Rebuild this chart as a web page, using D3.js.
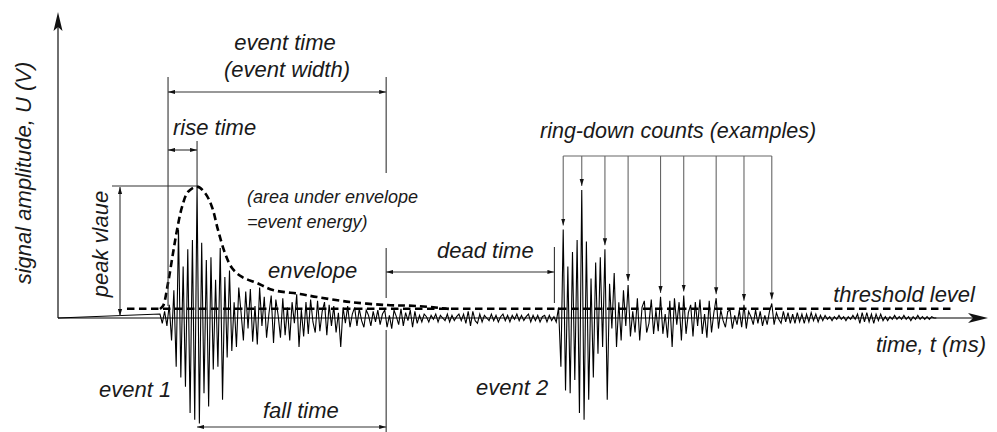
<!DOCTYPE html>
<html>
<head>
<meta charset="utf-8">
<script src="https://cdn.jsdelivr.net/npm/d3@7"></script>
<style>
  html, body { margin: 0; padding: 0; background: #fff; }
  svg text { font-family: "Liberation Sans", Arial, sans-serif; font-style: italic; fill: #1a1a1a; }
</style>
</head>
<body>
<svg id="chart" width="997" height="432"></svg>
<script>
// signal samples, step in ms, amplitudes in % of the peak value
const dt = 0.25;
const event1Start = 11.0;
const event1Amp = [
  3, -4, 5, -6, 10, -17, 21, -37,
  67, -45, 39, -52, 52, -72, 59, -77,
  100, -80, 57, -57, 44, -67, 46, -39,
  29, -37, 53, -62, 31, -30, 36, -25,
  12, -22, 23, 4, -17, 20, -8, 22,
  -18, 9, -20, 23, -6, 16, -15, 3,
  17, -19, 14, 2, -15, 15, -13, 8,
  -17, 12, -4, 18, -22, 6, -14, 12,
  -12, 14, -3, -11, 13, -10, 5, 12,
  -13, 10, -6, 9, -11, 4, -22, 8,
  -4, 9, -7, 3, 8, -6, 7, -2,
  -7, 6, 2, -6, 5, -3, 6, -5, 3
];
const quietAmp = [
  6, -7, 2, -8, 6, 1, -5, 7, -6, 4, -2, 6, -7, 5, -4, 2,
  -3, 3, 1, -3, 2, -1, 3, -3, 2, 0, -2, 3, -3, 2, -2, 1,
  3, -2, 3, -4, 5, -6, 5, -2, -4, 3, -3, 2, 0, -2, 3, -2,
  2, -3, 1, 3, -2, 2, -3, 2, -1, 3, -2, 2, -2, 1, 3, -3,
  2, -2, 2, -3, 1, 2, -3, 2, -2, 1
];
const event2Amp = [
  -3, 8, -37, 67, -55, 39, -57, 50,
  -47, 59, -72, 97, -77, 58, -62, 30,
  -45, 42, -27, 46, -22, 52,
  -62, 26, -8, 34, -22, 12, -17, 21, -6, 25,
  -14, 5, -11, 15, -17, 8, 13, -11, -4, 14, -12, 6, -10, 16,
  -12, 3, -15, 13, -22, 15, -5, 12, -17, 17, -12, 4,
  10, -14, 12, -6, 14, -12, 3, -15, 13, -11, 4, 15,
  -8, 6, -2, -7, 5, 6, -8, 2, -5, 6, -7, 10,
  -8, 5, 1, -5, 6, -4, 5, -6, 2, -5, 5, 11,
  -5, 4, -1, -4, 5, -3, 4, -4, 3, -4, 4, -3
];
const tailAmp = [
  3, -4, 3, -3, 4, -2, 3, -3, 2, -2, 2, -1,
  1, -2, 1, -1, 2, -1, 1, -2, 1, -1, 2, -1,
  3, -4, 4, -3, 4, -3, 3, -4, 3, -2, 3, -2,
  1, -2, 1, -1, 2, -1, 1, -1, 2, -1, 1, -2,
  1, -1, 2, -1, 1, -1, 1, -1, 1, 0, 0
];

// envelope of event 1
const envelopeT   = [11.0, 11.33, 11.87, 12.41, 12.84, 13.38, 14.02, 15.0, 15.86, 16.61, 17.26, 18.01, 18.77, 19.85, 21.47, 23.19, 26.11, 27.94, 31.5, 35.49, 38.73, 42.29];
const envelopeAmp = [6.8, 9.1, 26.5, 49.2, 66.7, 84.1, 95.5, 99.5, 94.7, 84.1, 66.7, 49.2, 37.9, 31.1, 26.5, 21.2, 18.2, 15.9, 12.1, 9.8, 9.1, 6.8];

const thresholdAmp = 7;
const thresholdSpan = [7.44, 96.55];
const peakAmp = 100;

// timing marks (ms)
const eventStart = 11.87;
const peakTime = 15.0;
const eventEnd = 35.4;
const deadEnd = 53.55;

// samples of event 2 used as ring-down count examples
const ringDownIdx = [3, 11, 21, 31, 45, 55, 69, 81, 93];

const svg = d3.select("#chart");
const x = d3.scaleLinear().domain([0, 100]).range([58, 985]);
const y = d3.scaleLinear().domain([0, 100]).range([318, 186]);

svg.append("defs").append("marker")
    .attr("id", "ah")
    .attr("viewBox", "0 0 10 6")
    .attr("refX", 10).attr("refY", 3)
    .attr("markerWidth", 7).attr("markerHeight", 5)
    .attr("markerUnits", "userSpaceOnUse")
    .attr("orient", "auto-start-reverse")
  .append("path")
    .attr("d", "M0,0L10,3L0,6Z")
    .attr("fill", "#111");

// axes
const x0 = x(0), y0 = y(0);
svg.append("line").attr("x1", x0).attr("y1", y0).attr("x2", 975).attr("y2", y0)
    .attr("stroke", "#555").attr("stroke-width", 1.5);
svg.append("path").attr("d", `M988,${y0}L968,${y0 - 5}L973,${y0}L968,${y0 + 5}Z`).attr("fill", "#111");
svg.append("line").attr("x1", x0).attr("y1", y0).attr("x2", x0).attr("y2", 24)
    .attr("stroke", "#222").attr("stroke-width", 1.3);
svg.append("path").attr("d", `M${x0},12L${x0 - 4.5},31L${x0},27L${x0 + 4.5},31Z`).attr("fill", "#111");

// signal
const pts = [[0, 0]];
let k = 0;
[event1Amp, quietAmp, event2Amp, tailAmp].forEach(seg => {
  seg.forEach(a => { pts.push([event1Start + k * dt, a]); k++; });
});
const line = d3.line().x(d => x(d[0])).y(d => y(d[1]));
svg.append("path").attr("d", line(pts))
    .attr("fill", "none").attr("stroke", "#000").attr("stroke-width", 1.1)
    .attr("stroke-linejoin", "miter");

// threshold
svg.append("line")
    .attr("x1", x(thresholdSpan[0])).attr("x2", x(thresholdSpan[1]))
    .attr("y1", y(thresholdAmp)).attr("y2", y(thresholdAmp))
    .attr("stroke", "#000").attr("stroke-width", 2.6).attr("stroke-dasharray", "7.5,4.5");

// envelope
const env = envelopeT.map((t, i) => [t, envelopeAmp[i]]);
svg.append("path")
    .attr("d", d3.line().x(d => x(d[0])).y(d => y(d[1])).curve(d3.curveCatmullRom)(env))
    .attr("fill", "none").attr("stroke", "#000").attr("stroke-width", 2.6)
    .attr("stroke-dasharray", "7,4");

// annotation helpers
const ann = svg.append("g").attr("stroke", "#333").attr("stroke-width", 1.1);
function vline(xp, ya, yb) {
  ann.append("line").attr("x1", xp).attr("x2", xp).attr("y1", ya).attr("y2", yb);
}
function arrow(x1, y1, x2, y2, both) {
  const l = ann.append("line").attr("x1", x1).attr("y1", y1).attr("x2", x2).attr("y2", y2)
      .attr("marker-end", "url(#ah)");
  if (both) l.attr("marker-start", "url(#ah)");
  return l;
}

// event time / rise time / fall time / dead time
vline(x(eventStart), 77, 306);
vline(x(eventEnd), 77, 173);
vline(x(eventEnd), 248, 298);
vline(x(eventEnd), 330, 432);
vline(x(peakTime), 141, y(peakAmp));
vline(x(deadEnd), 247, 303);
arrow(x(eventStart), 92, x(eventEnd), 92, true);
arrow(x(eventStart), 150, x(peakTime), 150, true);
arrow(x(peakTime), 427, x(eventEnd), 427, true);
arrow(x(eventEnd), 272, x(deadEnd), 272, true);

// peak value
ann.append("line").attr("x1", 112).attr("x2", x(peakTime)).attr("y1", y(peakAmp)).attr("y2", y(peakAmp));
arrow(120, y(peakAmp) + 1, 120, y(0) - 2, true);

// ring-down counts
const off2 = event1Amp.length + quietAmp.length;
const rx = ringDownIdx.map(i => x(event1Start + (off2 + i) * dt));
const ry = ringDownIdx.map(i => y(event2Amp[i]) - 4);
ann.append("line").attr("x1", rx[0]).attr("x2", rx[rx.length - 1]).attr("y1", 156).attr("y2", 156)
    .attr("stroke", "#666");
rx.forEach((xp, i) => {
  arrow(xp, 156, xp, ry[i], false).attr("stroke", "#666");
});

// texts
function label(txt, xp, yp, size, anchor) {
  return svg.append("text").attr("x", xp).attr("y", yp)
      .attr("font-size", size).attr("text-anchor", anchor || "start").text(txt);
}
label("event time", 285, 50, 22, "middle");
label("(event width)", 287, 77, 22, "middle");
label("rise time", 173, 135, 22);
label("(area under envelope", 247, 203, 18);
label("=event energy)", 247, 228, 18);
label("envelope", 268, 278, 22);
label("dead time", 437, 258, 22);
label("ring-down counts (examples)", 540, 138, 21.5);
label("threshold level", 975, 302, 22, "end");
label("time, t (ms)", 986, 352, 22, "end");
label("event 1", 99, 397, 22);
label("event 2", 476, 395, 22);
label("fall time", 263, 418, 22);

svg.append("text").attr("transform", "translate(108,244) rotate(-90)")
    .attr("font-size", 22).attr("text-anchor", "middle").text("peak vlaue");
svg.append("text").attr("transform", "translate(31,173) rotate(-90)")
    .attr("font-size", 22).attr("text-anchor", "middle").text("signal amplitude, U (V)");
</script>
</body>
</html>
